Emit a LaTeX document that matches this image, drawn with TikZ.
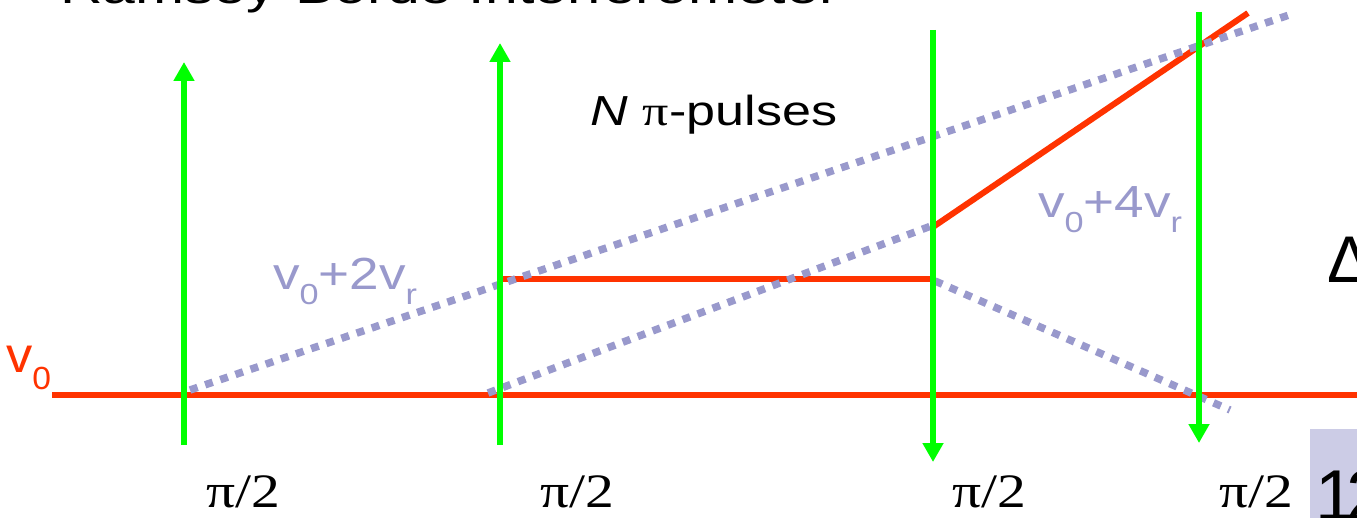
\documentclass[tikz,border=0pt]{standalone}
\usepackage{fontspec}
\setmainfont{Liberation Sans}
\newfontfamily\seriffam{Liberation Serif}
\usetikzlibrary{arrows.meta}
\definecolor{pulsegreen}{HTML}{00FF00}
\definecolor{pathred}{HTML}{FF3300}
\definecolor{dotlav}{HTML}{9999CC}
\definecolor{boxlav}{HTML}{CCCCE6}
\newcommand\lowidx[2]{\raisebox{-0.32em}{\fontsize{#1}{#1}\selectfont #2}}
\begin{document}
\begin{tikzpicture}[x=1pt,y=-1pt,
  txt/.style={inner sep=0pt, outer sep=0pt},
  pulse/.style={pulsegreen, line width=6pt, -{Triangle[width=20pt,length=19pt]}},
  redpath/.style={pathred, line width=6pt},
  dotpath/.style={dotlav, line width=7.5pt, dash pattern=on 8pt off 8pt},
  pilabel/.style={txt, anchor=base, font=\seriffam\fontsize{48}{48}\selectfont, xscale=1.2},
  lavlabel/.style={txt, anchor=base west, text=dotlav, font=\fontsize{45}{45}\selectfont, xscale=1.18}]
\useasboundingbox (0,0) rectangle (1357,518);

% coordinates
\coordinate (r0a) at (52,394.5);
\coordinate (r0b) at (1362,394.5);
\coordinate (r1a) at (500,279);
\coordinate (r1b) at (933,279);
\coordinate (r2a) at (933,227);
\coordinate (r2b) at (1248,13);
\coordinate (d1a) at (190,390);
\coordinate (d1b) at (1292,14);
\coordinate (d2a) at (488,393);
\coordinate (d2b) at (931,226);
\coordinate (d3a) at (935,281);
\coordinate (d3b) at (1230,410);
\coordinate (g1a) at (184,445);
\coordinate (g1b) at (184,62);
\coordinate (g2a) at (500,445);
\coordinate (g2b) at (500,43);
\coordinate (g3a) at (933,30);
\coordinate (g3b) at (933,462);
\coordinate (g4a) at (1199,12);
\coordinate (g4b) at (1199,443);

% title (cut off at top)
\node[txt, anchor=base west, font=\fontsize{46}{46}\selectfont, xscale=1.28] (title) at (60,4) {Ramsey-Bordé Interferometer};

% red paths
\draw[redpath] (r0a) -- (r0b);
\draw[redpath] (r1a) -- (r1b);
\draw[redpath] (r2a) -- (r2b);

% dotted paths
\draw[dotpath] (d1a) -- (d1b);
\draw[dotpath] (d2a) -- (d2b);
\draw[dotpath] (d3a) -- (d3b);

% pulses
\draw[pulse] (g1a) -- (g1b);
\draw[pulse] (g2a) -- (g2b);
\draw[pulse] (g3a) -- (g3b);
\draw[pulse] (g4a) -- (g4b);

% labels
\node[txt, anchor=base, font=\fontsize{42}{42}\selectfont, xscale=1.24] (npulses) at (714,126) {\textit{N} {\seriffam π}-pulses};
\node[txt, anchor=base west, text=pathred, font=\fontsize{50}{50}\selectfont, xscale=1.05] (vzero) at (6,373) {v\lowidx{32}{0}};
\node[lavlabel] (vtwo) at (273,290) {v\lowidx{29}{0}+2v\lowidx{29}{r}};
\node[lavlabel] (vfour) at (1038,218) {v\lowidx{29}{0}+4v\lowidx{29}{r}};
\node[pilabel] (pia) at (243,507) {π/2};
\node[pilabel] (pib) at (577,507) {π/2};
\node[pilabel] (pic) at (989,507) {π/2};
\node[pilabel] (pid) at (1256,507) {π/2};
\node[txt, anchor=base west, font=\fontsize{66}{66}\selectfont] (delta) at (1327,283) {Δ};

% page number box
\fill[boxlav] (1310,429) rectangle (1362,522);
\node[txt, anchor=base west, font=\fontsize{72}{72}\selectfont] (pagenum) at (1315,520) {1\kern-9pt 2};
\end{tikzpicture}
\end{document}
